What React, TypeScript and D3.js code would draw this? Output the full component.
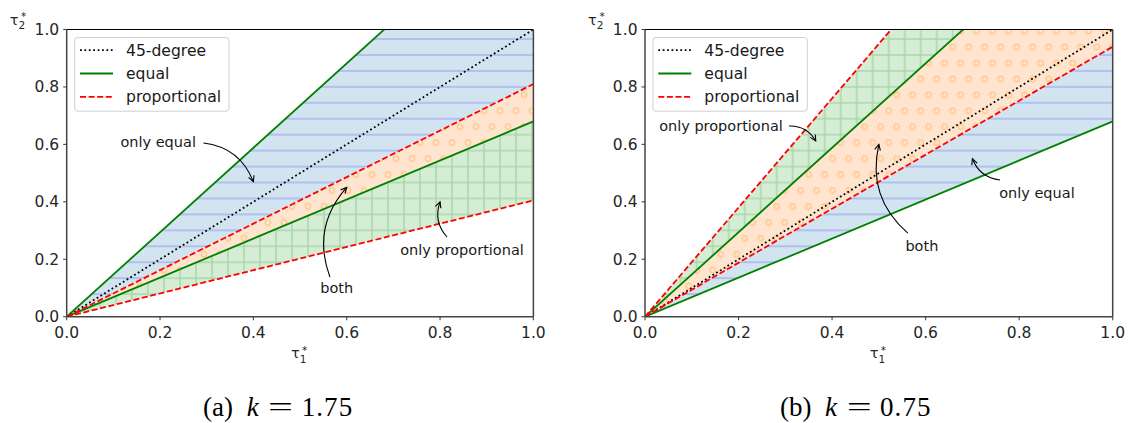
import React from 'react';
import * as d3 from 'd3';

// ---------- data ----------
const tickValues = [0, 0.2, 0.4, 0.6, 0.8, 1.0];
const tickLabels = ['0.0', '0.2', '0.4', '0.6', '0.8', '1.0'];
const legendLabels = ['45-degree', 'equal', 'proportional'];
const panelLetters = ['a', 'b'];
const kValues = ['1.75', '0.75'];

// slopes of the lines through the origin (tau2 = slope * tau1)
const equalSlopesA = [1.47, 0.68];
const propSlopesA = [0.81, 0.405];
const equalSlopesB = [1.47, 0.68];
const propSlopesB = [1.9, 0.94];

// annotations: label, text centre, arrow start, arrow target (data coords)
const annotationsA = [
  { label: 'only equal', text: [0.196, 0.608], from: [0.293, 0.605], to: [0.4, 0.47] },
  { label: 'both', text: [0.5785, 0.1], from: [0.564, 0.138], to: [0.6, 0.45] },
  { label: 'only proportional', text: [0.847, 0.232], from: [0.815, 0.2775], to: [0.8, 0.4] },
];
const annotationsB = [
  { label: 'only proportional', text: [0.1625, 0.664], from: [0.308, 0.664], to: [0.365, 0.612] },
  { label: 'both', text: [0.592, 0.246], from: [0.562, 0.291], to: [0.5, 0.6] },
  { label: 'only equal', text: [0.838, 0.431], from: [0.759, 0.476], to: [0.7, 0.55] },
];

// ---------- style ----------
const FONT = 'DejaVu Sans';
const GREEN = '#008000';
const RED = '#ff0000';
const FILLS = {
  blue: { bg: '#d2e4f0', fg: '#a6b0ee' },
  orange: { bg: '#ffe5cf', fg: '#ffc88e' },
  green: { bg: '#d5ecd5', fg: '#a8d6a8' },
};
const HX = 16;
const HY = 15.94;
const LW = 1.8;
const DOT = '1.8,2.6';
const DASH = '6,2.6';

type Ann = { label: string; text: number[]; from: number[]; to: number[] };

function Panel(props: {
  id: string;
  x0: number; x1: number; y0: number; y1: number;
  equal: number[]; prop: number[];
  anns: Ann[];
  hatchX: number; hatchY: number;
  letter: string; k: string;
  capX: number[];
}) {
  const { id, x0, x1, y0, y1, equal, prop, anns, hatchX, hatchY } = props;
  const sx = d3.scaleLinear().domain([0, 1]).range([x0, x1]);
  const sy = d3.scaleLinear().domain([0, 1]).range([y1, y0]);
  const line = d3.line<number[]>().x(d => sx(d[0])).y(d => sy(d[1]));

  const all = [...equal, ...prop].sort((a, b) => b - a);
  const regions = [0, 1, 2].map(i => {
    const top = all[i], bot = all[i + 1];
    const m = (top + bot) / 2;
    const inE = m < Math.max(...equal) && m > Math.min(...equal);
    const inP = m < Math.max(...prop) && m > Math.min(...prop);
    const kind = inE && inP ? 'orange' : inE ? 'blue' : 'green';
    return { top, bot, kind };
  });

  const clipId = `clip-${id}`;
  const pid = (k: string) => `pat-${k}-${id}`;
  const tileX = hatchX - 8, tileY = hatchY - 8;

  const cx = (x0 + x1) / 2;
  const lg = { x: x0 + 8, y: y0 + 8, w: 154.3, h: 73.7 };
  const rows = [lg.y + 12.7, lg.y + 36, lg.y + 59.3];

  return (
    <g>
      <defs>
        <clipPath id={clipId}>
          <rect x={x0} y={y0} width={x1 - x0} height={y1 - y0} />
        </clipPath>
        <pattern id={pid('blue')} patternUnits="userSpaceOnUse" x={tileX} y={tileY} width={HX} height={2 * HY}>
          <rect width={HX} height={2 * HY} fill={FILLS.blue.bg} />
          <line x1={0} x2={HX} y1={8} y2={8} stroke={FILLS.blue.fg} strokeWidth={1.4} />
          <line x1={0} x2={HX} y1={8 + HY} y2={8 + HY} stroke={FILLS.blue.fg} strokeWidth={1.4} />
        </pattern>
        <pattern id={pid('green')} patternUnits="userSpaceOnUse" x={tileX} y={tileY} width={HX} height={2 * HY}>
          <rect width={HX} height={2 * HY} fill={FILLS.green.bg} />
          <line x1={0} x2={HX} y1={8} y2={8} stroke={FILLS.green.fg} strokeWidth={1.4} />
          <line x1={0} x2={HX} y1={8 + HY} y2={8 + HY} stroke={FILLS.green.fg} strokeWidth={1.4} />
          <line x1={8} x2={8} y1={0} y2={2 * HY} stroke={FILLS.green.fg} strokeWidth={1.4} />
        </pattern>
        <pattern id={pid('orange')} patternUnits="userSpaceOnUse" x={tileX} y={tileY} width={HX} height={2 * HY}>
          <rect width={HX} height={2 * HY} fill={FILLS.orange.bg} />
          {[[8, HY], [0, 0], [HX, 0], [0, 2 * HY], [HX, 2 * HY]].map((c, i) => (
            <circle key={i} cx={c[0]} cy={c[1]} r={2.7} fill="none" stroke={FILLS.orange.fg} strokeWidth={1.4} />
          ))}
        </pattern>
      </defs>

      <g clipPath={`url(#${clipId})`}>
        {regions.map((r, i) => (
          <path key={i} d={line([[0, 0], [1, r.top], [1, r.bot]])! + 'Z'} fill={`url(#${pid(r.kind)})`} />
        ))}
        <path d={line([[0, 0], [1, 1]])!} stroke="#000" strokeWidth={LW} strokeDasharray={DOT} fill="none" />
        {equal.map((s, i) => (
          <path key={'e' + i} d={line([[0, 0], [1, s]])!} stroke={GREEN} strokeWidth={LW} fill="none" />
        ))}
        {prop.map((s, i) => (
          <path key={'p' + i} d={line([[0, 0], [1, s]])!} stroke={RED} strokeWidth={LW} strokeDasharray={DASH} fill="none" />
        ))}
      </g>

      {/* spines */}
      <line x1={x0} x2={x1} y1={y0} y2={y0} stroke="#000" strokeWidth={1.1} />
      <line x1={x0} x2={x0} y1={y0} y2={y1} stroke="#444" strokeWidth={1.5} />
      <line x1={x1} x2={x1} y1={y0} y2={y1} stroke="#444" strokeWidth={1.5} />
      <line x1={x0} x2={x1} y1={y1} y2={y1} stroke="#444" strokeWidth={1.5} />

      {/* ticks */}
      {tickValues.map((t, i) => (
        <g key={'xt' + i}>
          <line x1={sx(t)} x2={sx(t)} y1={y1} y2={y1 + 3.5} stroke="#444" strokeWidth={1.1} />
          <text x={sx(t)} y={y1 + 21} textAnchor="middle" fontFamily={FONT} fontSize={15.5} fill="#262626">{tickLabels[i]}</text>
          <line x1={x0 - 3.5} x2={x0} y1={sy(t)} y2={sy(t)} stroke="#444" strokeWidth={1.1} />
          <text x={x0 - 7.5} y={sy(t) + 5.5} textAnchor="end" fontFamily={FONT} fontSize={15.5} fill="#262626">{tickLabels[i]}</text>
        </g>
      ))}

      {/* axis labels */}
      <g fontFamily={FONT} fill="#262626">
        <text x={cx - 9} y={y1 + 41.3} fontSize={14.5}>τ<tspan fontSize={10.5} dy={4.7}>1</tspan><tspan fontSize={10.5} dx={-4.5} dy={-8.5}>*</tspan></text>
        <text x={x0 - 57} y={y0 - 4.5} fontSize={14.5}>τ<tspan fontSize={10.5} dy={3.5}>2</tspan><tspan fontSize={10.5} dx={-4} dy={-8.5}>*</tspan></text>
      </g>

      {/* legend */}
      <rect x={lg.x} y={lg.y} width={lg.w} height={lg.h} rx={3} fill="#fff" fillOpacity={0.8} stroke="#d0d0d0" strokeWidth={1} />
      {legendLabels.map((lab, i) => (
        <g key={'lg' + i}>
          <line x1={lg.x + 5.3} x2={lg.x + 38.3} y1={rows[i]} y2={rows[i]}
            stroke={i === 0 ? '#000' : i === 1 ? GREEN : RED} strokeWidth={LW}
            strokeDasharray={i === 0 ? DOT : i === 2 ? DASH : undefined} />
          <text x={lg.x + 51.3} y={rows[i] + 5.6} fontFamily={FONT} fontSize={15.6} fill="#1a1a1a">{lab}</text>
        </g>
      ))}

      {/* annotations */}
      {anns.map((a, i) => {
        const p0 = [sx(a.from[0]), sy(a.from[1])];
        const p2 = [sx(a.to[0]), sy(a.to[1])];
        const dx = p2[0] - p0[0], dy = p2[1] - p0[1];
        const rad = 0.3;
        const c = [(p0[0] + p2[0]) / 2 + rad * dy, (p0[1] + p2[1]) / 2 - rad * dx];
        const tx = p2[0] - c[0], ty = p2[1] - c[1];
        const tl = Math.hypot(tx, ty);
        const ux = tx / tl, uy = ty / tl;
        const L = 5.8, W = 2.9;
        const a1 = [p2[0] - L * ux - W * uy, p2[1] - L * uy + W * ux];
        const a2 = [p2[0] - L * ux + W * uy, p2[1] - L * uy - W * ux];
        return (
          <g key={'an' + i}>
            <path d={`M${p0[0]},${p0[1]} Q${c[0]},${c[1]} ${p2[0]},${p2[1]}`} fill="none" stroke="#000" strokeWidth={1.1} />
            <path d={`M${a1[0]},${a1[1]} L${p2[0]},${p2[1]} L${a2[0]},${a2[1]}`} fill="none" stroke="#000" strokeWidth={1.1} />
            <text x={sx(a.text[0])} y={sy(a.text[1]) + 5} textAnchor="middle" fontFamily={FONT} fontSize={14.5} fill="#1a1a1a">{a.label}</text>
          </g>
        );
      })}

      {/* caption */}
      <g fontFamily="'Liberation Serif', serif" fontSize={27} fill="#000">
        <text x={props.capX[0]} y={415.7}>({props.letter})</text>
        <text x={props.capX[1]} y={415.7} fontStyle="italic">k</text>
        <text x={props.capX[2]} y={415.7} textLength={25} lengthAdjust="spacingAndGlyphs">=</text>
        <text x={props.capX[3]} y={415.7} textLength={50.5} lengthAdjust="spacing">{props.k}</text>
      </g>
    </g>
  );
}

export default function App() {
  return (
    <svg width={1128} height={423} style={{ position: 'absolute', left: 0, top: 0, background: '#fff' }}>
      <rect width={1128} height={423} fill="#fff" />
      <Panel id="a" x0={66.7} x1={533.4} y0={29.5} y1={316.7}
        equal={equalSlopesA} prop={propSlopesA} anns={annotationsA}
        hatchX={500} hatchY={134.7} letter={panelLetters[0]} k={kValues[0]}
        capX={[203, 246.7, 268, 301.7]} />
      <Panel id="b" x0={645} x1={1112.7} y0={29.5} y1={316.7}
        equal={equalSlopesB} prop={propSlopesB} anns={annotationsB}
        hatchX={856.7} hatchY={134.7} letter={panelLetters[1]} k={kValues[1]}
        capX={[780, 825, 846.7, 880]} />
    </svg>
  );
}
